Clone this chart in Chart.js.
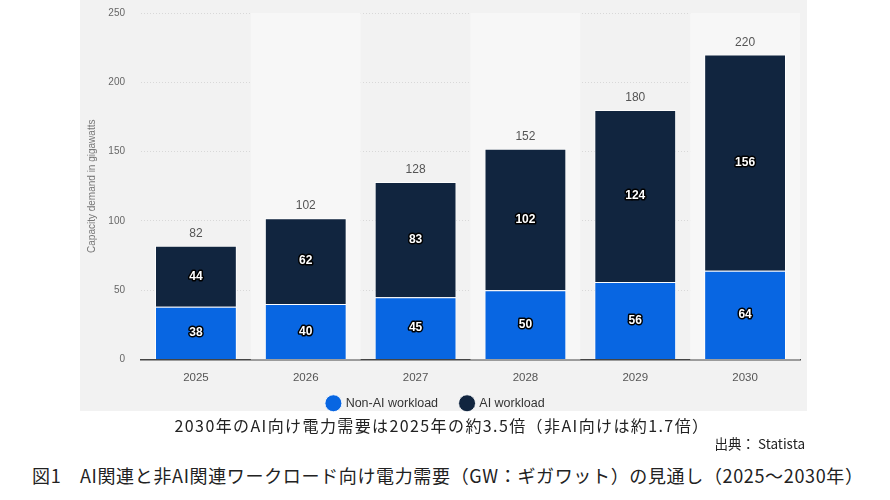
<!DOCTYPE html>
<html lang="ja">
<head>
<meta charset="utf-8">
<script src="https://cdn.jsdelivr.net/npm/chart.js@4/dist/chart.umd.min.js"></script>
<style>
  body { margin: 0; width: 890px; height: 500px; background: #fff; position: relative; overflow: hidden; font-family: "Noto Sans CJK JP", sans-serif; }
  #panel { position: absolute; left: 80px; top: 0; width: 727px; height: 411px; background: #f2f2f2; }
  #chart { position: absolute; left: 0; top: 0; }
  .txt { position: absolute; white-space: nowrap; color: #222; }
  #sub { left: 0; width: 884px; top: 414px; text-align: center; font-size: 16px; line-height: 22px; letter-spacing: 1.4px; }
  #src { right: 85px; top: 434px; font-size: 13.5px; line-height: 18px; }
  #cap { left: 32px; top: 463px; font-size: 18px; line-height: 24px; letter-spacing: 0.65px; }
</style>
</head>
<body>
<div id="panel"><canvas id="chart"></canvas></div>
<div class="txt" id="sub">2030年のAI向け電力需要は2025年の約3.5倍（非AI向けは約1.7倍）</div>
<div class="txt" id="src">出典： Statista</div>
<div class="txt" id="cap">図1　AI関連と非AI関連ワークロード向け電力需要（GW：ギガワット）の見通し（2025～2030年）</div>
<script>
const years = ['2025', '2026', '2027', '2028', '2029', '2030']
const nonAiWorkload = [38, 40, 45, 50, 56, 64]
const aiWorkload = [44, 62, 83, 102, 124, 156]
const yTicks = [0, 50, 100, 150, 200, 250]

const LEGEND_PAD = 23
const LEGEND_Y = 404
const PLOT_BOTTOM = 360

// alternating light columns behind the bars
const bandPlugin = {
    id: 'bands',
    beforeDatasetsDraw(chart){
        const {ctx, chartArea, scales} = chart
        const x = scales.x
        const w = x.getPixelForValue(1) - x.getPixelForValue(0)
        ctx.save()
        ctx.fillStyle = '#f7f7f7'
        for(let i=1; i<years.length; i+=2){
            const c = x.getPixelForValue(i)
            ctx.fillRect(c - w/2, chartArea.top, w, chartArea.bottom - chartArea.top)
        }
        ctx.restore()
    }
}

// numbers inside the segments and totals on top
const labelPlugin = {
    id: 'barLabels',
    afterDatasetsDraw(chart){
        const ctx = chart.ctx
        ctx.save()
        ctx.textAlign = 'center'
        ctx.textBaseline = 'middle'
        ctx.font = 'bold 12px "Liberation Sans", Arial, sans-serif'
        ctx.lineJoin = 'round'
        chart.data.datasets.forEach((ds, di) => {
            const meta = chart.getDatasetMeta(di)
            meta.data.forEach((bar, i) => {
                const y = (bar.y + bar.base) / 2
                ctx.lineWidth = 3
                ctx.strokeStyle = '#000'
                ctx.strokeText(ds.data[i], bar.x, y)
                ctx.fillStyle = '#fff'
                ctx.fillText(ds.data[i], bar.x, y)
            })
        })
        const top = chart.getDatasetMeta(chart.data.datasets.length - 1)
        ctx.font = '12px "Liberation Sans", Arial, sans-serif'
        ctx.fillStyle = '#555'
        top.data.forEach((bar, i) => {
            const total = nonAiWorkload[i] + aiWorkload[i]
            ctx.fillText(total, bar.x, bar.y - 12)
        })
        ctx.restore()
    }
}

// move legend up into the panel, a bit left
const legendShift = {
    id: 'legendShift',
    afterLayout(chart){
        const lg = chart.legend
        const h = lg.bottom - lg.top
        lg.top = LEGEND_Y - LEGEND_PAD - 7
        lg.bottom = lg.top + h
        lg.left -= 7
        lg.right -= 7
    }
}

function displayChart(){
    const ctx = document.getElementById('chart')
    return new Chart(ctx, {
        type: 'bar',
        data: {
            labels: years,
            datasets: [{
                label: 'Non-AI workload',
                data: nonAiWorkload,
                backgroundColor: '#0866e2',
                borderColor: 'rgba(255,255,255,0.85)',
                borderWidth: 1,
                categoryPercentage: 1,
                barPercentage: 0.745
            }, {
                label: 'AI workload',
                data: aiWorkload,
                backgroundColor: '#11253f',
                borderColor: 'rgba(255,255,255,0.85)',
                borderWidth: 1,
                categoryPercentage: 1,
                barPercentage: 0.745
            }]
        },
        options: {
            responsive: false,
            animation: false,
            devicePixelRatio: 1,
            layout: { padding: { left: 6, right: 7, top: 13, bottom: 0 } },
            plugins: {
                tooltip: { enabled: false },
                legend: {
                    position: 'bottom',
                    labels: {
                        usePointStyle: true,
                        pointStyle: 'circle',
                        boxWidth: 12,
                        boxHeight: 12,
                        padding: LEGEND_PAD,
                        color: '#333',
                        font: { family: '"Liberation Sans", Arial, sans-serif', size: 12.5 }
                    }
                }
            },
            scales: {
                x: {
                    stacked: true,
                    grid: { display: false, drawTicks: true, tickLength: 11 },
                    border: { display: true, color: '#444', width: 1.5 },
                    ticks: { color: '#555', padding: 0, font: { family: '"Liberation Sans", Arial, sans-serif', size: 11.5 } },
                    afterFit(scale){ scale.height = 30 }
                },
                y: {
                    stacked: true,
                    min: 0,
                    max: 250,
                    afterBuildTicks(scale){ scale.ticks = yTicks.map(v => ({value: v})) },
                    grid: {
                        drawTicks: true,
                        tickLength: 16,
                        tickColor: 'rgba(0,0,0,0)',
                        color: c => c.tick.value === 0 ? 'rgba(0,0,0,0)' : '#d8d8d8',
                        lineWidth: 1
                    },
                    border: { display: false, dash: [1, 2] },
                    ticks: { color: '#666', padding: 0, font: { family: '"Liberation Sans", Arial, sans-serif', size: 10 } },
                    title: {
                        display: true,
                        text: 'Capacity demand in gigawatts',
                        color: '#777',
                        padding: 0,
                        font: { family: '"Liberation Sans", Arial, sans-serif', size: 10 }
                    },
                    afterFit(scale){ scale.width = 55 }
                }
            }
        },
        plugins: [bandPlugin, labelPlugin, legendShift]
    })
}

// canvas taller than the grey panel; legend gets pulled back up inside it
const cv = document.getElementById('chart')
cv.width = 727
cv.height = 435
const chart = displayChart()
// nudge canvas height so the plot bottom lands on PLOT_BOTTOM
const diff = chart.chartArea.bottom - PLOT_BOTTOM
if(Math.abs(diff) > 0.5){
    chart.resize(727, 435 - diff)
}
</script>
</body>
</html>
